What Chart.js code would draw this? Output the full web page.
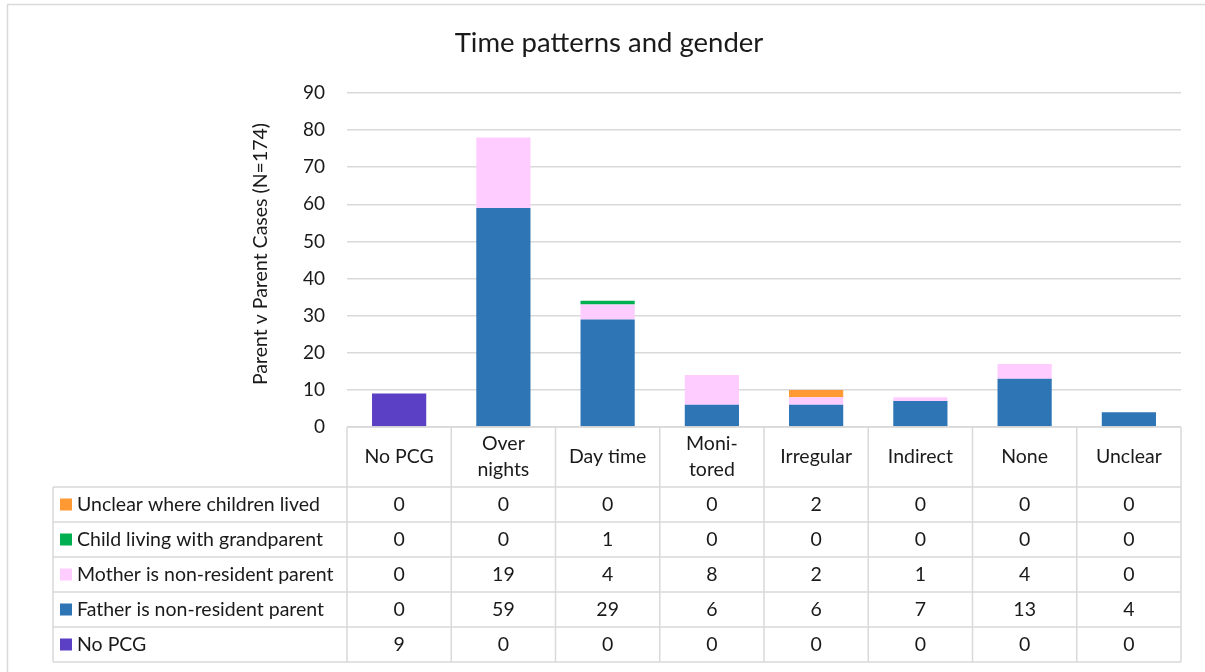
<!DOCTYPE html>
<html>
<head>
<meta charset="utf-8">
<title>Time patterns and gender</title>
<script src="https://cdn.jsdelivr.net/npm/chart.js@4/dist/chart.umd.min.js"></script>
<style>
  html, body { margin: 0; padding: 0; background: #fff; }
  canvas { display: block; }
</style>
</head>
<body>
<canvas id="chart" width="1205" height="672"></canvas>
<script>
// data
const categories = [['No PCG'], ['Over', 'nights'], ['Day time'], ['Moni-', 'tored'], ['Irregular'], ['Indirect'], ['None'], ['Unclear']];
const noPCG = [9, 0, 0, 0, 0, 0, 0, 0];
const father = [0, 59, 29, 6, 6, 7, 13, 4];
const mother = [0, 19, 4, 8, 2, 1, 4, 0];
const grandparent = [0, 0, 1, 0, 0, 0, 0, 0];
const unclear = [0, 0, 0, 0, 2, 0, 0, 0];
const yTicks = [0, 10, 20, 30, 40, 50, 60, 70, 80, 90];

const FONT = 'Lato, "Open Sans", sans-serif';
const GRID = '#d9d9d9';
const TEXT = '#1a1a1a';

// table under the plot (Excel style data table)
const tablePlugin = {
    id: 'dataTable',
    beforeDraw(chart) {
        const ctx = chart.ctx;
        ctx.save();
        ctx.strokeStyle = GRID;
        ctx.lineWidth = 1.5;
        ctx.strokeRect(7.5, 4.5, 1400, 800);
        ctx.restore();
    },
    afterDraw(chart) {
        const ctx = chart.ctx;
        const area = chart.chartArea;
        const x = chart.scales.x;
        const n = categories.length;
        const colW = (area.right - area.left) / n;
        const top = area.bottom;
        const headH = 60;
        const rowH = 35;
        const legendLeft = 53;
        // rows are listed top to bottom = reverse of stack order
        const rows = chart.data.datasets.slice().reverse();
        const bottom = top + headH + rowH * rows.length;

        ctx.save();
        ctx.strokeStyle = GRID;
        ctx.lineWidth = 1.5;
        ctx.beginPath();
        ctx.moveTo(area.left, top);
        ctx.lineTo(area.right, top);
        for (let r = 0; r <= rows.length; r++) {
            const y = top + headH + r * rowH;
            ctx.moveTo(legendLeft, y);
            ctx.lineTo(area.right, y);
        }
        for (let c = 0; c <= n; c++) {
            const xx = area.left + c * colW;
            ctx.moveTo(xx, top);
            ctx.lineTo(xx, bottom);
        }
        ctx.moveTo(legendLeft, top + headH);
        ctx.lineTo(legendLeft, bottom);
        ctx.stroke();

        ctx.fillStyle = TEXT;
        ctx.textAlign = 'center';
        ctx.textBaseline = 'middle';
        ctx.font = '19.5px ' + FONT;
        categories.forEach((lines, i) => {
            const cx = x.getPixelForValue(i);
            const cy = top + headH / 2;
            const lh = 26;
            lines.forEach((t, k) => {
                ctx.fillText(t, cx, cy + (k - (lines.length - 1) / 2) * lh);
            });
        });

        rows.forEach((ds, r) => {
            const cy = top + headH + r * rowH + rowH / 2;
            ds.data.forEach((v, i) => {
                ctx.textAlign = 'center';
                ctx.fillText(String(v), x.getPixelForValue(i), cy);
            });
            ctx.fillStyle = ds.backgroundColor;
            ctx.fillRect(60, cy - 6, 12, 12);
            ctx.fillStyle = TEXT;
            ctx.textAlign = 'left';
            ctx.fillText(ds.label, 77, cy);
        });

        // y axis title
        ctx.translate(261, 254);
        ctx.rotate(-Math.PI / 2);
        ctx.textAlign = 'center';
        ctx.font = '19.5px ' + FONT;
        ctx.fillText('Parent v Parent Cases (N=174)', 0, 0);
        ctx.restore();
    }
};

const ctx = document.getElementById('chart').getContext('2d');
const chart = new Chart(ctx, {
    type: 'bar',
    data: {
        labels: categories,
        datasets: [
            { label: 'No PCG', data: noPCG, backgroundColor: '#5b3fc4' },
            { label: 'Father is non-resident parent', data: father, backgroundColor: '#2e75b6' },
            { label: 'Mother is non-resident parent', data: mother, backgroundColor: '#ffccff' },
            { label: 'Child living with grandparent', data: grandparent, backgroundColor: '#00b050' },
            { label: 'Unclear where children lived', data: unclear, backgroundColor: '#ff9933' }
        ]
    },
    options: {
        responsive: false,
        animation: false,
        layout: {
            padding: { left: 37, right: 24, top: 0, bottom: 245 }
        },
        datasets: {
            bar: { categoryPercentage: 1, barPercentage: 0.52, borderWidth: 0 }
        },
        plugins: {
            legend: { display: false },
            title: {
                display: true,
                text: 'Time patterns and gender',
                color: TEXT,
                font: { family: FONT, size: 27.5, weight: 'normal', lineHeight: 1.2 },
                padding: { top: 26.5, bottom: 33.5 }
            },
            tooltip: { enabled: true }
        },
        scales: {
            x: {
                stacked: true,
                display: false
            },
            y: {
                stacked: true,
                min: 0,
                max: 90,
                afterFit(scale) { scale.width = 310; },
                afterBuildTicks(scale) { scale.ticks = yTicks.map(v => ({ value: v })); },
                border: { display: false },
                grid: { color: GRID, lineWidth: 1.5, drawTicks: false },
                ticks: {
                    color: TEXT,
                    padding: 22,
                    font: { family: FONT, size: 19 }
                }
            }
        }
    },
    plugins: [tablePlugin]
});
</script>
</body>
</html>
